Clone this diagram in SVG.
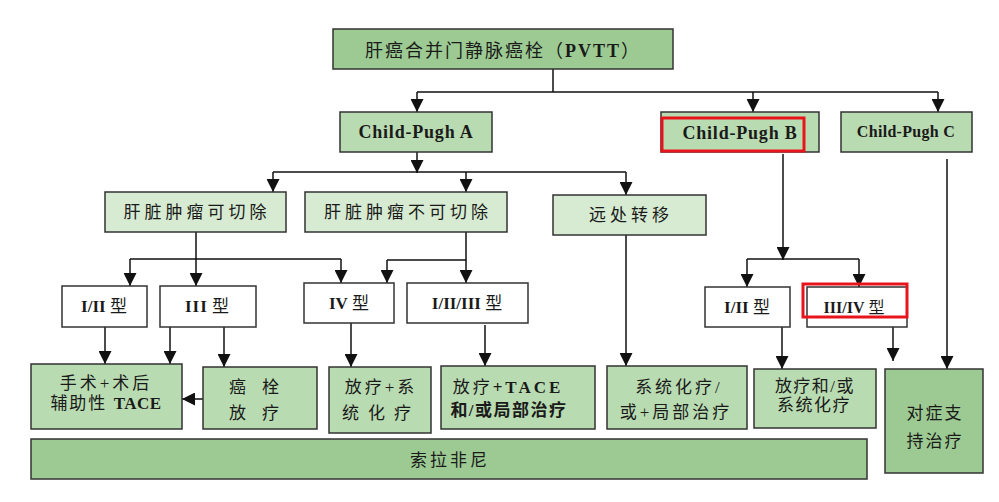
<svg xmlns="http://www.w3.org/2000/svg" width="999" height="502" viewBox="0 0 999 502">
<defs>
<style>
.dk{fill:#9dca93;stroke:#333;stroke-width:1.5}
.md{fill:#b9dbb1;stroke:#333;stroke-width:1.5}
.lt{fill:#d6ebd1;stroke:#333;stroke-width:1.5}
.wh{fill:#fff;stroke:#333;stroke-width:1.5}
.red{fill:none;stroke:#e8141b;stroke-width:3}
text{font-family:"Liberation Serif","Noto Sans CJK SC",serif;fill:#1a1a1a;text-anchor:middle}
.cn{font-size:17px;letter-spacing:4px}
.b{font-weight:bold}
.cp{font-size:18px;font-weight:bold;letter-spacing:0.8px}
.ty{font-size:17px}
.bt{font-size:17px;letter-spacing:3px}
.ln{fill:none;stroke:#111;stroke-width:1.5}
</style>
<marker id="ar" markerUnits="userSpaceOnUse" markerWidth="13" markerHeight="13" viewBox="0 0 13 13" refX="13" refY="6.5" orient="auto">
<path d="M0,0 L13,6.5 L0,13 z" fill="#111"/>
</marker>
</defs>
<rect width="999" height="502" fill="#fff"/>

<g id="connectors">
<path class="ln" d="M553,69 V92 M417,92 H938"/>
<path class="ln" marker-end="url(#ar)" d="M417,92 V112"/>
<path class="ln" marker-end="url(#ar)" d="M753,92 V112"/>
<path class="ln" marker-end="url(#ar)" d="M938,92 V112"/>
<path class="ln" marker-end="url(#ar)" d="M417,152 V173"/>
<path class="ln" d="M273,172 H626"/>
<path class="ln" marker-end="url(#ar)" d="M273,172 V192"/>
<path class="ln" marker-end="url(#ar)" d="M466,172 V192"/>
<path class="ln" marker-end="url(#ar)" d="M626,172 V195"/>
<path class="ln" d="M196,232 V259 M130,259 H341"/>
<path class="ln" marker-end="url(#ar)" d="M130,259 V286"/>
<path class="ln" marker-end="url(#ar)" d="M196,259 V286"/>
<path class="ln" marker-end="url(#ar)" d="M341,259 V283"/>
<path class="ln" d="M466,232 V260 M387,260 H466"/>
<path class="ln" marker-end="url(#ar)" d="M387,260 V283"/>
<path class="ln" marker-end="url(#ar)" d="M466,260 V283"/>
<path class="ln" marker-end="url(#ar)" d="M783,154 V260"/>
<path class="ln" d="M747,259 H859"/>
<path class="ln" marker-end="url(#ar)" d="M747,259 V287"/>
<path class="ln" marker-end="url(#ar)" d="M859,259 V287"/>
<path class="ln" marker-end="url(#ar)" d="M947,159 V369"/>
<path class="ln" marker-end="url(#ar)" d="M626,235 V366"/>
<path class="ln" marker-end="url(#ar)" d="M105,327 V364"/>
<path class="ln" marker-end="url(#ar)" d="M170,327 V364"/>
<path class="ln" marker-end="url(#ar)" d="M224,327 V367"/>
<path class="ln" marker-end="url(#ar)" d="M351,323 V367"/>
<path class="ln" marker-end="url(#ar)" d="M485,325 V366"/>
<path class="ln" marker-end="url(#ar)" d="M782,327 V369"/>
<path class="ln" marker-end="url(#ar)" d="M893,327 V361"/>
<path class="ln" marker-end="url(#ar)" d="M203,399 H182"/>
</g>

<g id="n-title">
<rect class="dk" x="333" y="29" width="340" height="40"/>
<text x="503" y="57" style="font-size:18px;letter-spacing:2px">肝癌合并门静脉癌栓（<tspan class="b">PVTT</tspan>）</text>
</g>
<g id="n-cpa">
<rect class="md" x="340" y="112" width="152" height="40"/>
<text class="cp" x="416" y="138">Child-Pugh A</text>
</g>
<g id="n-cpb">
<rect class="md" x="661" y="112" width="158" height="40"/>
<rect class="red" x="662" y="118" width="142" height="33"/>
<text class="cp" x="740" y="139">Child-Pugh B</text>
</g>
<g id="n-cpc">
<rect class="md" x="841" y="112" width="131" height="40"/>
<text x="906" y="137" style="font-size:16px;font-weight:bold;letter-spacing:0.3px">Child-Pugh C</text>
</g>
<g id="n-resect">
<rect class="lt" x="105" y="192" width="181" height="40"/>
<text class="cn" x="197" y="218">肝脏肿瘤可切除</text>
</g>
<g id="n-unresect">
<rect class="lt" x="305" y="192" width="202" height="40"/>
<text class="cn" x="408" y="218">肝脏肿瘤不可切除</text>
</g>
<g id="n-meta">
<rect class="lt" x="553" y="195" width="153" height="40"/>
<text class="cn" x="631" y="221">远处转移</text>
</g>
<g id="n-t12a">
<rect class="wh" x="62" y="286" width="85" height="41"/>
<text class="ty" x="104" y="312"><tspan class="b">I/II</tspan> 型</text>
</g>
<g id="n-t3">
<rect class="wh" x="160" y="286" width="96" height="41"/>
<text class="ty" x="207" y="312"><tspan class="b" style="letter-spacing:1px">III</tspan> 型</text>
</g>
<g id="n-t4">
<rect class="wh" x="304" y="283" width="90" height="40"/>
<text class="ty" x="349" y="309"><tspan class="b">IV</tspan> 型</text>
</g>
<g id="n-t123">
<rect class="wh" x="407" y="283" width="121" height="40"/>
<text class="ty" x="467" y="309"><tspan class="b">I/II/III</tspan> 型</text>
</g>
<g id="n-t12b">
<rect class="wh" x="705" y="287" width="85" height="40"/>
<text class="ty" x="747" y="313"><tspan class="b">I/II</tspan> 型</text>
</g>
<g id="n-t34">
<rect class="wh" x="807" y="287" width="100" height="40"/>
<rect class="red" x="803" y="284" width="104" height="33"/>
<text x="854" y="313" style="font-size:16px"><tspan class="b">III/IV</tspan> 型</text>
</g>
<g id="n-surg">
<rect class="md" x="31" y="364" width="151" height="65"/>
<text class="bt" x="106" y="389">手术+术后</text>
<text class="bt" x="106" y="409" style="letter-spacing:2px">辅助性 <tspan class="b" style="letter-spacing:0.5px">TACE</tspan></text>
</g>
<g id="n-rt">
<rect class="md" x="203" y="367" width="114" height="62"/>
<text class="bt" x="262" y="393" style="letter-spacing:16px">癌栓</text>
<text class="bt" x="262" y="419" style="letter-spacing:16px">放疗</text>
</g>
<g id="n-rtsys">
<rect class="md" x="329" y="367" width="102" height="66"/>
<text class="bt" x="381" y="393">放疗+系</text>
<text class="bt" x="381" y="419" style="letter-spacing:9px">统化疗</text>
</g>
<g id="n-rttace">
<rect class="md" x="441" y="366" width="154" height="63"/>
<text class="bt" x="508" y="393">放疗<tspan class="b">+TACE</tspan></text>
<text class="bt b" x="509" y="416" style="letter-spacing:1.5px">和/或局部治疗</text>
</g>
<g id="n-sys">
<rect class="md" x="607" y="366" width="140" height="63"/>
<text class="bt" x="679" y="393">系统化疗/</text>
<text class="bt" x="676" y="418">或+局部治疗</text>
</g>
<g id="n-rtor">
<rect class="md" x="754" y="369" width="122" height="59"/>
<text class="bt" x="815" y="392" style="letter-spacing:1.5px">放疗和/或</text>
<text class="bt" x="814" y="411" style="letter-spacing:1.5px">系统化疗</text>
</g>
<g id="n-support">
<rect class="dk" x="885" y="369" width="98" height="104"/>
<text class="bt" x="935" y="419" style="letter-spacing:2px">对症支</text>
<text class="bt" x="935" y="447" style="letter-spacing:2px">持治疗</text>
</g>
<g id="n-sora">
<rect class="dk" x="31" y="439" width="836" height="40"/>
<text class="bt" x="450" y="466">索拉非尼</text>
</g>
</svg>
